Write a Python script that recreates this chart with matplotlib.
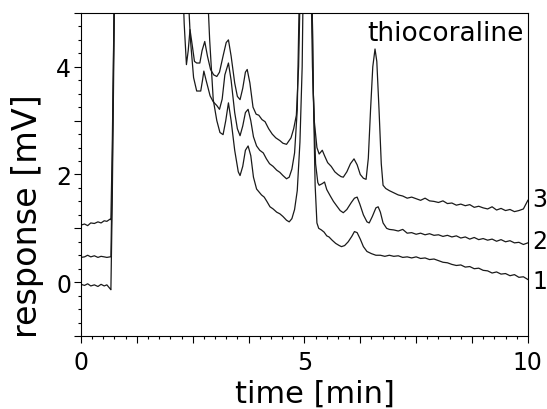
import matplotlib
matplotlib.use("Agg")
import matplotlib.pyplot as plt
from matplotlib.ticker import MultipleLocator

# trace 1 (bottom)
t1 = [0.00, 0.08, 0.15, 0.22, 0.30, 0.38, 0.45, 0.52, 0.58, 0.65, 0.67, 0.70, 0.74, 0.76,
      2.80, 2.88, 2.96, 3.04, 3.11, 3.18, 3.24, 3.30, 3.36, 3.44, 3.52, 3.56, 3.62, 3.68,
      3.74, 3.80, 3.86, 3.93, 4.00, 4.04, 4.10, 4.16, 4.23, 4.30, 4.38, 4.45, 4.52, 4.60,
      4.66, 4.72, 4.78, 4.84, 4.90, 4.95, 4.98,
      5.16, 5.20, 5.24, 5.28, 5.32, 5.38, 5.44, 5.50, 5.55, 5.62, 5.70, 5.78, 5.83, 5.90,
      5.98, 6.06, 6.12, 6.18, 6.25, 6.32, 6.40, 6.50, 6.60, 6.70, 6.80,
      6.9, 7.0, 7.1, 7.2, 7.3, 7.4, 7.5, 7.6, 7.7, 7.8, 7.9, 8.0, 8.1, 8.2, 8.3, 8.4,
      8.5, 8.6, 8.7, 8.8, 8.9, 9.0, 9.1, 9.2, 9.3, 9.4, 9.5, 9.6, 9.7, 9.8, 9.9, 10.0]
r1 = [-0.04, -0.06, -0.03, -0.07, -0.05, -0.08, -0.04, -0.07, -0.05, -0.12, -0.14, 1.5, 4.5, 6.0,
      6.0, 4.5, 3.39, 3.0, 2.78, 2.74, 3.0, 3.33, 3.0, 2.45, 2.05, 1.98, 2.15, 2.45,
      2.53, 2.35, 1.95, 1.73, 1.66, 1.62, 1.58, 1.50, 1.40, 1.36, 1.30, 1.27, 1.22, 1.15,
      1.12, 1.18, 1.35, 1.70, 2.60, 4.0, 6.0,
      6.0, 3.5, 1.8, 1.1, 1.0, 0.97, 0.93, 0.86, 0.84, 0.78, 0.72, 0.68, 0.66, 0.68,
      0.75, 0.85, 0.94, 0.92, 0.80, 0.66, 0.57, 0.53, 0.50, 0.50, 0.48,
      0.50, 0.48, 0.49, 0.46, 0.47, 0.45, 0.47, 0.44, 0.45, 0.42, 0.43, 0.40, 0.37, 0.36, 0.33, 0.31,
      0.32, 0.28, 0.29, 0.25, 0.26, 0.22, 0.21, 0.17, 0.19, 0.15, 0.16, 0.12, 0.14, 0.09, 0.10, 0.05]

# trace 2 (middle)
t2 = [0.00, 0.08, 0.15, 0.22, 0.30, 0.38, 0.45, 0.52, 0.58, 0.65, 0.67, 0.70, 0.74, 0.76,
      2.36, 2.45, 2.52, 2.59, 2.68, 2.72, 2.75, 2.80, 2.89, 2.96, 3.04, 3.10, 3.16, 3.22,
      3.30, 3.36, 3.44, 3.50, 3.56, 3.62, 3.68, 3.74, 3.80, 3.86, 3.93, 4.00, 4.08, 4.15,
      4.22, 4.30, 4.38, 4.45, 4.52, 4.60, 4.66, 4.72, 4.78, 4.84, 4.90,
      5.16, 5.20, 5.25, 5.30, 5.33, 5.40, 5.45, 5.50, 5.58, 5.65, 5.72, 5.80, 5.87, 5.95,
      6.05, 6.12, 6.18, 6.24, 6.32, 6.40, 6.45, 6.52, 6.60, 6.65, 6.70, 6.76, 6.84,
      6.9, 7.0, 7.1, 7.2, 7.3, 7.4, 7.5, 7.6, 7.7, 7.8, 7.9, 8.0, 8.1, 8.2, 8.3, 8.4,
      8.5, 8.6, 8.7, 8.8, 8.9, 9.0, 9.1, 9.2, 9.3, 9.4, 9.5, 9.6, 9.7, 9.8, 9.9, 10.0]
r2 = [0.46, 0.47, 0.50, 0.47, 0.49, 0.46, 0.48, 0.47, 0.46, 0.47, 0.47, 2.0, 5.0, 6.0,
      6.0, 4.5, 3.8, 3.55, 3.55, 3.75, 3.92, 3.75, 3.46, 3.35, 3.28, 3.21, 3.4, 3.85,
      4.07, 3.75, 3.15, 2.85, 2.72, 2.9, 3.15, 3.21, 3.0, 2.7, 2.53, 2.45, 2.40, 2.29,
      2.20, 2.15, 2.08, 2.04, 1.98, 1.92, 1.95, 2.1, 2.4, 3.2, 6.0,
      6.0, 3.5, 2.2, 1.85, 1.80, 1.83, 1.86, 1.72, 1.60, 1.50, 1.42, 1.33, 1.29, 1.35,
      1.48, 1.56, 1.58, 1.45, 1.25, 1.12, 1.10, 1.22, 1.38, 1.40, 1.30, 1.10, 1.00,
      0.98, 0.97, 0.95, 0.98, 0.91, 0.92, 0.89, 0.91, 0.88, 0.90, 0.87, 0.88, 0.85, 0.87, 0.84, 0.86,
      0.82, 0.84, 0.80, 0.83, 0.79, 0.81, 0.78, 0.80, 0.76, 0.79, 0.75, 0.77, 0.73, 0.74, 0.70, 0.73]

# trace 3 (top, with thiocoraline peak)
t3 = [0.00, 0.08, 0.15, 0.22, 0.30, 0.38, 0.45, 0.52, 0.58, 0.65, 0.67, 0.70, 0.74, 0.76,
      2.26, 2.31, 2.36, 2.40, 2.44, 2.49, 2.54, 2.59, 2.66, 2.71, 2.77, 2.83, 2.90, 2.97,
      3.04, 3.10, 3.18, 3.25, 3.30, 3.36, 3.44, 3.50, 3.56, 3.62, 3.68, 3.72, 3.78, 3.85,
      3.92, 3.98, 4.05, 4.12, 4.20, 4.28, 4.36, 4.45, 4.52, 4.60, 4.70, 4.76, 4.82, 4.87, 4.92,
      5.14, 5.18, 5.22, 5.28, 5.33, 5.40, 5.45, 5.52, 5.60, 5.68, 5.75, 5.82, 5.87, 5.95,
      6.03, 6.11, 6.18, 6.25, 6.32, 6.38, 6.43, 6.48, 6.53, 6.58, 6.62, 6.67, 6.72, 6.76, 6.82,
      6.9, 7.0, 7.1, 7.2, 7.3, 7.4, 7.5, 7.6, 7.7, 7.8, 7.9, 8.0, 8.1, 8.2, 8.3, 8.4,
      8.5, 8.6, 8.7, 8.8, 8.9, 9.0, 9.1, 9.2, 9.3, 9.4, 9.5, 9.6, 9.7, 9.8, 9.9, 10.0]
r3 = [1.06, 1.08, 1.05, 1.10, 1.09, 1.12, 1.10, 1.14, 1.13, 1.17, 1.16, 2.5, 5.0, 6.0,
      6.0, 4.8, 4.04, 4.3, 4.69, 4.4, 4.1, 4.07, 4.07, 4.3, 4.47, 4.2, 3.95, 3.85,
      3.82, 3.9, 4.2, 4.45, 4.5, 4.2, 3.7, 3.45, 3.39, 3.6, 3.9, 3.95, 3.7, 3.25,
      3.12, 3.10, 3.02, 2.98, 2.85, 2.75, 2.68, 2.63, 2.58, 2.56, 2.68, 2.85, 3.1, 4.0, 6.0,
      6.0, 4.0, 3.0, 2.5, 2.38, 2.45, 2.35, 2.22, 2.15, 2.05, 2.00, 1.96, 1.95, 2.05,
      2.2, 2.29, 2.18, 2.0, 1.93, 1.91, 2.3, 3.2, 4.0, 4.33, 4.1, 3.2, 2.2, 1.80, 1.74,
      1.70, 1.66, 1.62, 1.60, 1.56, 1.58, 1.55, 1.52, 1.56, 1.51, 1.50, 1.48, 1.51, 1.46, 1.47, 1.43,
      1.45, 1.42, 1.44, 1.39, 1.41, 1.38, 1.36, 1.40, 1.34, 1.37, 1.33, 1.35, 1.31, 1.33, 1.36, 1.52]

trace_labels = ["1", "2", "3"]
label_y = [0.02, 0.76, 1.55]

fig = plt.figure(figsize=(5.47, 4.10), dpi=100)
ax = fig.add_axes([0.148, 0.178, 0.817, 0.788])

for t, r in [(t1, r1), (t2, r2), (t3, r3)]:
    ax.plot(t, r, color="#1a1a1a", linewidth=0.9)

ax.set_xlim(0, 10)
ax.set_ylim(-1, 5)

# major ticks every 1.25 min, labelled only at 0, 5, 10
ax.xaxis.set_major_locator(MultipleLocator(1.25))
ax.xaxis.set_minor_locator(MultipleLocator(0.25))
ax.xaxis.set_major_formatter(lambda v, p: f"{v:g}" if abs(v % 5) < 1e-6 else "")
ax.yaxis.set_major_locator(MultipleLocator(1))
ax.yaxis.set_minor_locator(MultipleLocator(0.25))
ax.yaxis.set_major_formatter(lambda v, p: f"{v:g}" if abs(v % 2) < 1e-6 else "")

ax.tick_params(which="major", length=5, width=0.8, labelsize=17)
ax.tick_params(which="minor", length=2.5, width=0.8)
ax.tick_params(axis="x", pad=5)
ax.tick_params(axis="y", pad=2)
for s in ax.spines.values():
    s.set_linewidth(0.8)

ax.text(9.9, 4.63, "thiocoraline", fontsize=19, ha="right", va="center")
for lab, y in zip(trace_labels, label_y):
    ax.text(10.1, y, lab, fontsize=17, ha="left", va="center")

fig.text(315 / 547, 1 - 394 / 410, "time [min]", fontsize=22, ha="center", va="center")
fig.text(28 / 547, 1 - 216 / 410, "response [mV]", fontsize=24, ha="center", va="center",
         rotation=90)

fig.savefig("out.png", dpi=100)
